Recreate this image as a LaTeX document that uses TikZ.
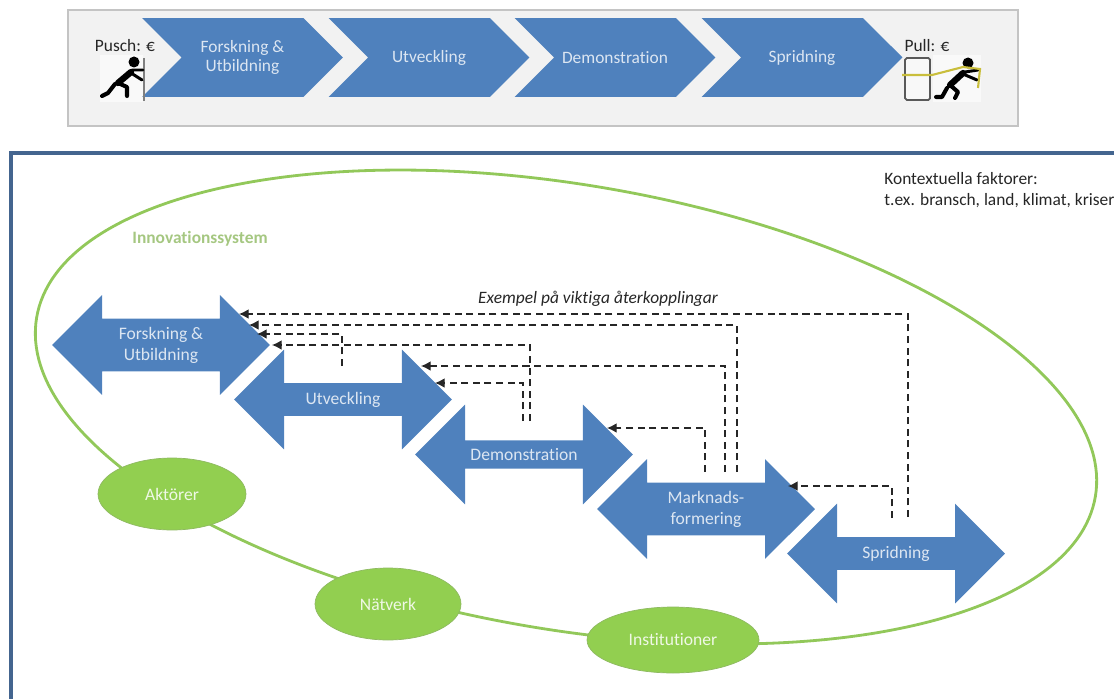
\documentclass[tikz,border=0pt]{standalone}
\usepackage{fontspec}
\setmainfont{Carlito}[Ligatures=NoCommon]
\usetikzlibrary{shapes.arrows,shapes.symbols,shapes.geometric,arrows.meta}
\definecolor{phaseblue}{HTML}{4F81BD}
\definecolor{phasetext}{HTML}{DCE6F2}
\definecolor{sysgreen}{HTML}{92C85A}
\definecolor{actorgreen}{HTML}{92CF50}
\definecolor{framegray}{HTML}{C4C4C4}
\definecolor{framefill}{HTML}{F2F2F2}
\definecolor{frameblue}{HTML}{44658F}
\definecolor{ropeyellow}{HTML}{C9BE3C}
\begin{document}
\begin{tikzpicture}[
    x=0.02cm, y=-0.02cm,
    phase/.style={signal, signal to=east, signal from=west, signal pointer angle=90,
                  fill=phaseblue, text=phasetext, font=\fontsize{9.9}{11.3}\selectfont,
                  align=center, inner sep=0pt, minimum width=4.02cm, minimum height=1.58cm},
    stage/.style={double arrow, double arrow head extend=0.33cm, double arrow tip angle=90,
                  fill=phaseblue, text=phasetext, font=\fontsize{10}{12}\selectfont,
                  align=center, inner sep=0pt, minimum width=2cm, minimum height=4.36cm},
    actor/.style={ellipse, fill=actorgreen, draw=sysgreen!80!gray, text=white!85!actorgreen,
                  font=\fontsize{10}{12}\selectfont, inner sep=0pt},
    feedback/.style={draw=black!85, dash pattern=on 4pt off 2.6pt, line width=0.7pt,
                     -{Latex[length=5.5pt,width=5.5pt]}},
    label/.style={font=\fontsize{9.9}{12}\selectfont, text=black!85, align=left},
    limb/.style={line width=2.3pt, line cap=round, line join=round, black},
    arm/.style={line width=1.7pt, line cap=round, line join=round, black},
    torso/.style={line width=3.6pt, line cap=round, black}
  ]
  \useasboundingbox (0,0) rectangle (1114,699);

  % top bar
  \draw[framegray, fill=framefill, line width=0.8pt] (68,10) rectangle (1018,126);
  \fill[white!50!framefill] (100,55) rectangle (143,102);
  \fill[white!50!framefill] (933,55) rectangle (981,102);
  \node[phase] (fou) at (242.5,57.5) {Forskning \&\\Utbildning};
  \node[phase] (utv) at (429,57.5) {Utveckling};
  \node[phase] (dem) at (615,57.5) {Demonstration};
  \node[phase] (spr) at (802,57.5) {Spridning};
  \node[label] (pusch) at (125,46) {Pusch: €};
  \node[label] (pull) at (927,46) {Pull: €};

  % pusher
  \draw[gray, line width=0.8pt] (144,58) -- (144,101);
  \fill (134,62) circle (5.5);
  \draw[torso] (131,72) -- (118,83);
  \draw[arm] (132,70) -- (143,70) (131,73) -- (142,80);
  \draw[limb] (118,83) -- (127,87) -- (127,96);
  \draw[limb] (115,84) -- (108,93) -- (102,96);

  % puller and door
  \draw[black!65, line width=1pt, rounded corners=1pt, fill=white!50!framefill] (905,58) rectangle (930,100);
  \fill (968,63) circle (5.5);
  \draw[torso] (963,73) -- (950,85);
  \draw[arm] (965,72) -- (978,70) (963,74) -- (977,80);
  \draw[limb] (950,85) -- (958,92) -- (955,98);
  \draw[limb] (947,88) -- (942,97) -- (936,97);
  \draw[ropeyellow, line width=1.2pt] (902,75) -- (932,75) -- (963,67) -- (980,69) -- (978,88);

  % lower frame
  \draw[frameblue, line width=1.9pt] (11,699) -- (11,153) -- (1114,153);
  \node[label, anchor=north west, inner sep=0pt] (ctx) at (884,172) {Kontextuella faktorer:\\t.ex. bransch, land, klimat, kriser};

  % innovation system
  \node[ellipse, draw=sysgreen, line width=1.6pt, rotate=-9.6, inner sep=0pt,
        minimum width=21.48cm, minimum height=8.9cm] (sys) at (566,407) {};
  \node[font=\fontsize{9.9}{12}\selectfont\bfseries, text=sysgreen!80!gray!80!white] (syslabel) at (200,239) {Innovationssystem};

  % stages
  \node[stage] (sfou) at (161,345) {Forskning \&\\Utbildning};
  \node[stage] (sutv) at (343,399.5) {Utveckling};
  \node[stage] (sdem) at (524,454.5) {Demonstration};
  \node[stage] (smar) at (706,509) {Marknads-\\formering};
  \node[stage] (sspr) at (896,553.5) {Spridning};

  \node[actor, minimum width=2.96cm, minimum height=1.44cm] (akt) at (172,494) {Aktörer};
  \node[actor, minimum width=2.92cm, minimum height=1.44cm] (nat) at (388,604) {Nätverk};
  \node[actor, minimum width=3.44cm, minimum height=1.32cm] (ins) at (673,640) {Institutioner};

  % feedback loops
  \node[font=\fontsize{9.9}{12}\selectfont\itshape, text=black!85] (fbk) at (598,299) {Exempel på viktiga återkopplingar};
  \foreach \n/\sx/\sy/\by/\tx in {a/908/517/314/239, b/737/472/325/249, c/342/366/334/257,
                                  d/530/421/345/272, e/725/472/366/421, f/523/421/383/435,
                                  g/705/472/428/607, h/892/518/486/788} {
    \coordinate (from\n) at (\sx,\sy);
    \coordinate (to\n) at (\tx,\by);
    \draw[feedback] (from\n) |- (to\n);
  }
\end{tikzpicture}
\end{document}
